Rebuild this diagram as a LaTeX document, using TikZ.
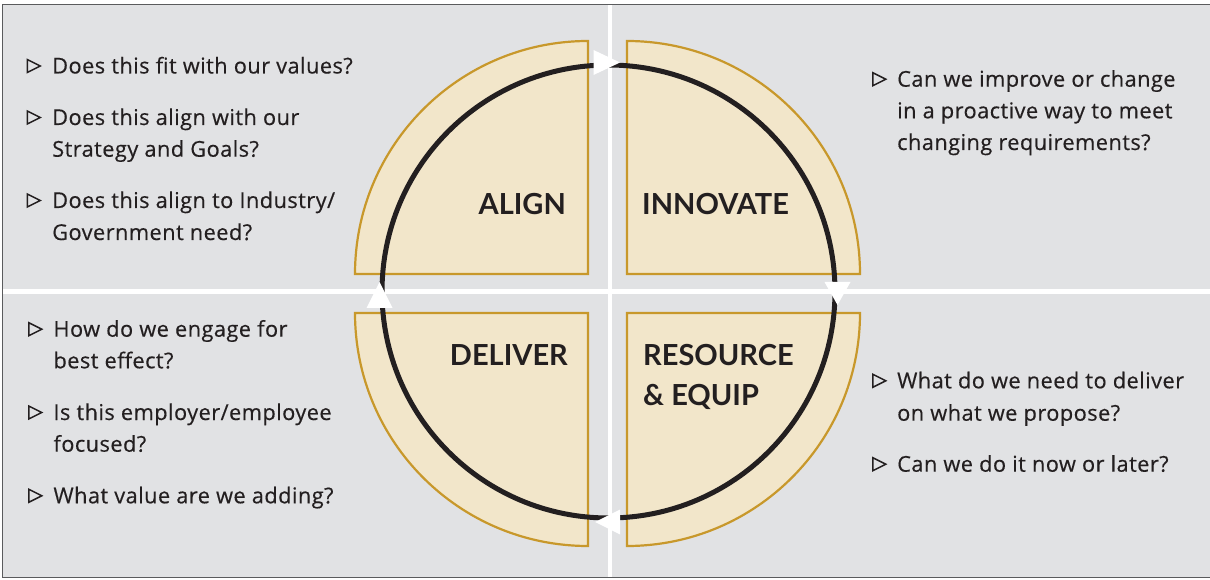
\documentclass[tikz,border=0pt]{standalone}
\usepackage{fontspec}
\setmainfont{Lato}
\newfontfamily\qfont[LetterSpace=2, FakeBold=0.4]{Open Sans}
\usetikzlibrary{calc}
\definecolor{panel}{HTML}{E1E2E4}
\definecolor{frame}{HTML}{5A5B5D}
\definecolor{gold}{HTML}{C8982B}
\definecolor{cream}{HTML}{F2E6CA}
\definecolor{ink}{HTML}{231F20}
\begin{document}
\begin{tikzpicture}[x=1pt,y=1pt,
  quad/.style={fill=cream, draw=gold, line width=2.2},
  qtext/.style={anchor=base west, inner sep=0, font=\qfont\fontsize{21.8}{25}\selectfont, text=ink},
  phase/.style={inner sep=0, font=\bfseries\fontsize{29}{33}\selectfont, text=ink},
  bul/.pic={\draw[ink, line width=1.5] (0.8,1) -- (0.8,14) -- (13.8,7.5) -- cycle;},
  tip/.style={fill=white}]
\useasboundingbox (0,0) rectangle (1210,579);
% panel background and white dividers
\fill[panel] (2.5,1.5) rectangle (1210,574.5);
\fill[white] (607.8,1.5) rectangle (612.3,574.5);
\fill[white] (3,284.8) rectangle (1210,289.8);
\draw[frame, line width=1.3] (1210,574.5) -- (2.5,574.5) -- (2.5,1.5) -- (1210,1.5);

% four quarter sectors
\draw[quad] (588,305) -- (355,305) arc[start angle=180, end angle=90, radius=233] -- cycle;
\draw[quad] (627,305) -- (627,538) arc[start angle=90, end angle=0, radius=233] -- cycle;
\draw[quad] (588,266) -- (355,266) arc[start angle=180, end angle=270, radius=233] -- cycle;
\draw[quad] (627,266) -- (860,266) arc[start angle=0, end angle=-90, radius=233] -- cycle;

% cycle ring with its four arrowheads
\node[circle, draw=ink, line width=5, minimum size=453, inner sep=0] (ring) at (608.5,287.5) {};
\fill[tip, shift={(ring.north)}] (-15,12.5) -- (11.5,0) -- (-15,-12.5) -- cycle;
\fill[tip, shift={(ring.east)}] (-13,9.5) -- (13,9.5) -- (0,-13.5) -- cycle;
\fill[tip, shift={(ring.south)}] (-13.5,-1.5) -- (11.5,11) -- (11.5,-14) -- cycle;
\fill[tip, shift={(ring.west)}] (-13,-16.5) -- (13,-16.5) -- (0,9.5) -- cycle;

% sector titles
\node[phase, anchor=base east] (align) at (566,364.7) {ALIGN};
\node[phase, anchor=base west] (innovate) at (642,364.7) {INNOVATE};
\node[phase, anchor=base east] (deliver) at (568,214) {DELIVER};
\node[phase, anchor=base west] (resource) at (643,214) {RESOURCE};
\node[phase, anchor=base west] (equip) at (643,173.3) {\& EQUIP};

% questions: align
\pic at (26.5,505.5) {bul};
\node[qtext] (a1) at (52,505.5) {Does this fit with our values?};
\pic at (26.5,454) {bul};
\node[qtext] (a2) at (52,454) {Does this align with our};
\node[qtext] (a2b) at (52,422.3) {Strategy and Goals?};
\pic at (26.5,371) {bul};
\node[qtext] (a3) at (52,371) {Does this align to Industry/};
\node[qtext] (a3b) at (52,339) {Government need?};

% questions: innovate
\pic at (872,492.3) {bul};
\node[qtext] (i1) at (897,492.3) {Can we improve or change};
\node[qtext] (i1b) at (897,460.7) {in a proactive way to meet};
\node[qtext] (i1c) at (897,429) {changing requirements?};

% questions: deliver
\pic at (28,242.3) {bul};
\node[qtext] (d1) at (53.3,242.3) {How do we engage for};
\node[qtext] (d1b) at (53.3,210.7) {best effect?};
\pic at (28,159) {bul};
\node[qtext] (d2) at (53.3,159) {Is this employer/employee};
\node[qtext] (d2b) at (53.3,127.3) {focused?};
\pic at (28,75.7) {bul};
\node[qtext] (d3) at (53.3,75.7) {What value are we adding?};

% questions: resource & equip
\pic at (872,190.7) {bul};
\node[qtext] (r1) at (897,190.7) {What do we need to deliver};
\node[qtext] (r1b) at (897,158.3) {on what we propose?};
\pic at (872,107.3) {bul};
\node[qtext] (r2) at (897,107.3) {Can we do it now or later?};
\end{tikzpicture}
\end{document}
